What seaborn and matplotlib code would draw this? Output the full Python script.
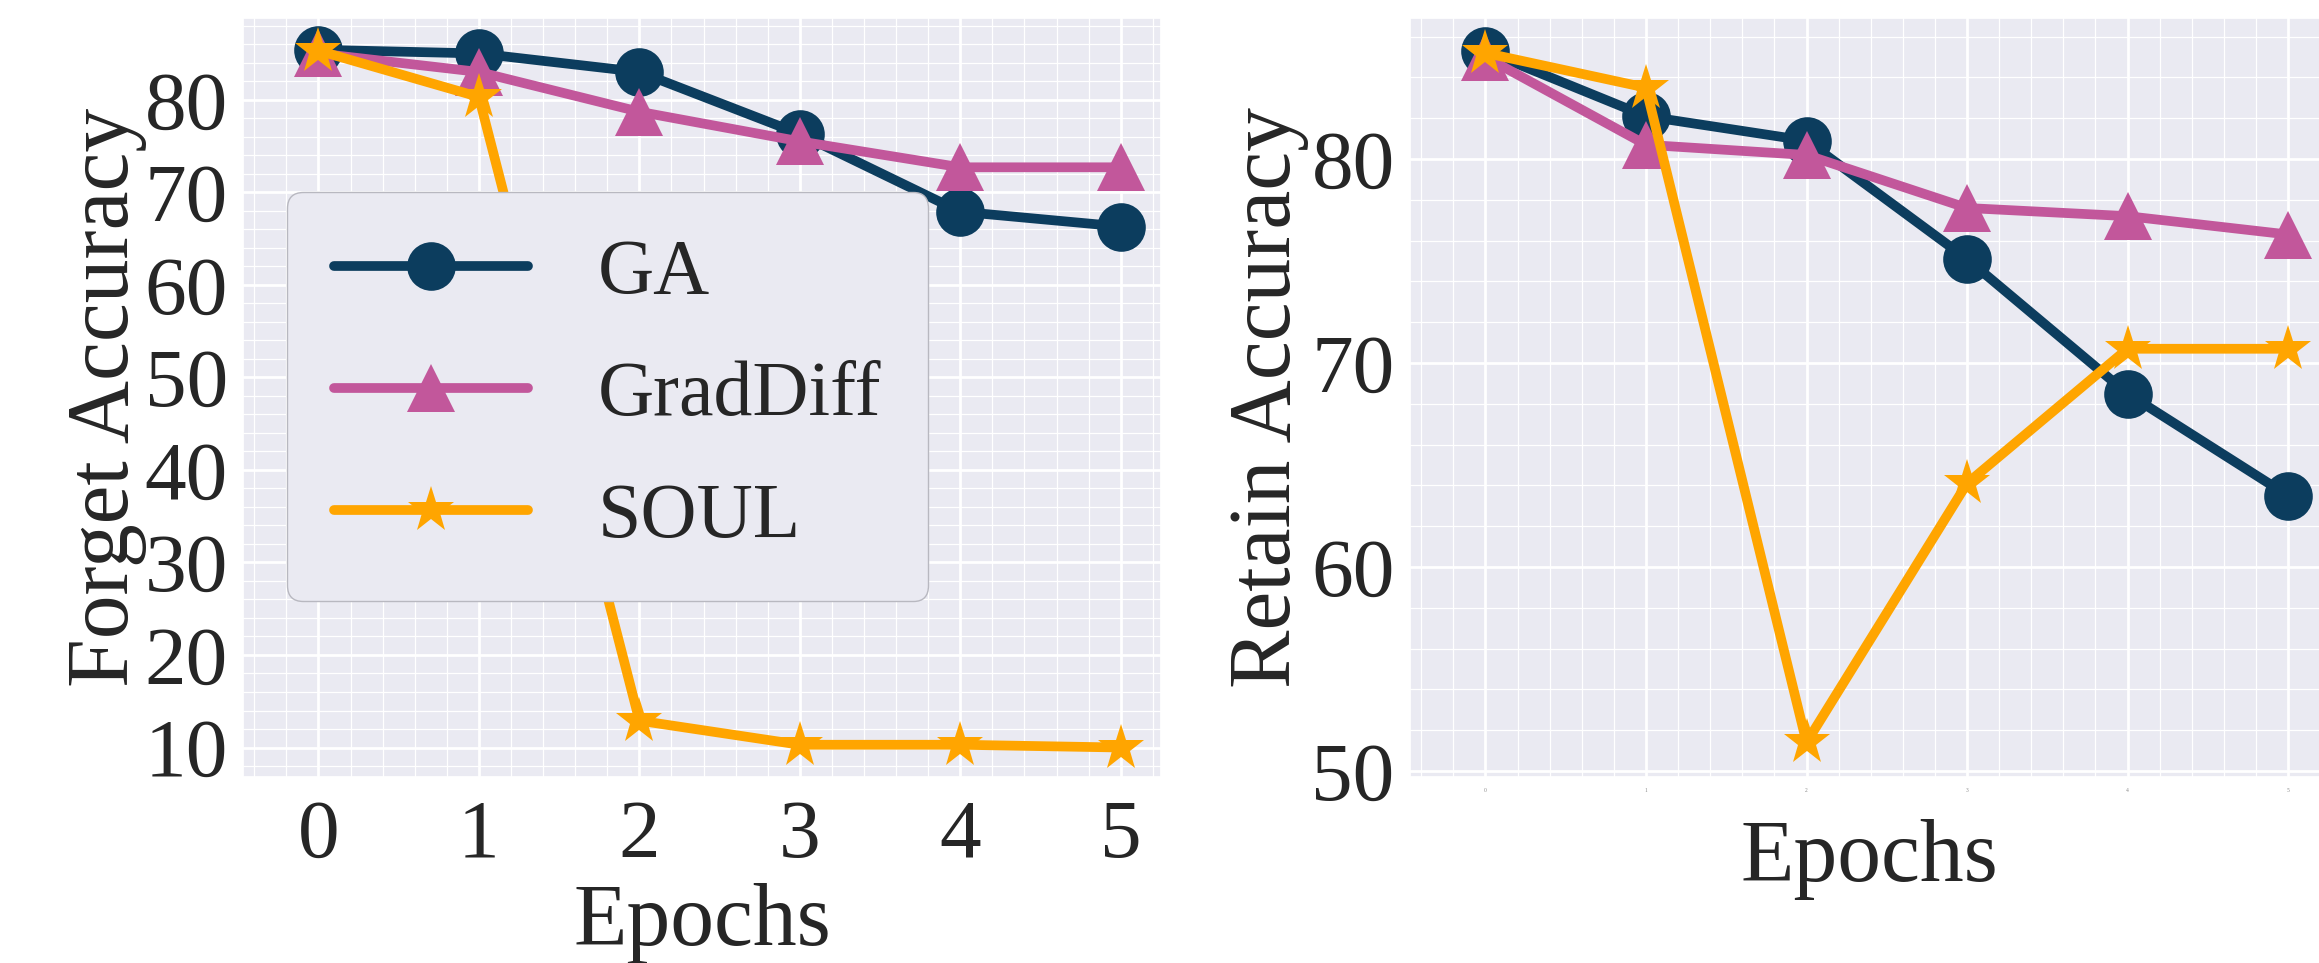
import matplotlib
matplotlib.use("Agg")
import matplotlib.pyplot as plt
import numpy as np
import seaborn as sns
from matplotlib.ticker import AutoMinorLocator, MultipleLocator

# Data
epochs = [0, 1, 2, 3, 4, 5]
methods = ["GA", "GradDiff", "SOUL"]

forget_ga = [85.4, 85.0, 83.0, 76.3, 67.9, 66.3]
forget_graddiff = [85.0, 83.0, 78.7, 75.5, 72.7, 72.7]
forget_soul = [85.3, 80.3, 12.9, 10.3, 10.3, 10.0]

retain_ga = [85.3, 82.1, 80.9, 75.1, 68.5, 63.5]
retain_graddiff = [85.0, 80.7, 80.2, 77.6, 77.2, 76.3]
retain_soul = [85.2, 83.5, 51.4, 64.1, 70.7, 70.7]

colors = ["#0c3d5e", "#c2579b", "#ffa500"]
markers = ["o", "^", "*"]

sns.set_theme(style="darkgrid")
plt.rcParams["font.family"] = ["Liberation Serif", "DejaVu Serif"]
plt.rcParams["text.color"] = ".15"
plt.rcParams["axes.labelcolor"] = ".15"

fig = plt.figure(figsize=(23.19, 9.63), dpi=100)
ax1 = fig.add_axes([0.1048, 0.193, 0.3958, 0.788])
ax2 = fig.add_axes([0.6080, 0.193, 0.3960, 0.788])


def draw(ax, series):
    for vals, name, c, m in zip(series, methods, colors, markers):
        sns.lineplot(
            x=epochs, y=vals, ax=ax, color=c, marker=m, markersize=35,
            markeredgewidth=0, linewidth=7, label=name,
        )
    ax.set_xlim(-0.47, 5.25)
    ax.xaxis.set_major_locator(MultipleLocator(1))
    ax.xaxis.set_minor_locator(MultipleLocator(0.2))
    ax.yaxis.set_minor_locator(AutoMinorLocator(5))
    ax.grid(which="major", color="white", linewidth=2)
    ax.grid(which="minor", color="white", linewidth=0.9)
    ax.tick_params(which="both", length=0)


# Left panel: forget accuracy
draw(ax1, [forget_ga, forget_graddiff, forget_soul])
ax1.set_ylim(6.8, 88.8)
ax1.set_yticks([10, 20, 30, 40, 50, 60, 70, 80])
ax1.tick_params(axis="y", labelsize=60, pad=11)
ax1.tick_params(axis="x", labelsize=60, pad=16)
ax1.set_xlabel("Epochs", fontsize=63)
ax1.set_ylabel("Forget Accuracy", fontsize=63)
ax1.xaxis.set_label_coords(0.5, -0.14)
ax1.yaxis.set_label_coords(-0.105, 0.5)
ax1.legend(
    loc="upper left", bbox_to_anchor=(0.048, 0.771), borderaxespad=0,
    fontsize=56, handlelength=2.5, handletextpad=0.9, labelspacing=0.65,
    borderpad=0.6, frameon=True, fancybox=True, shadow=False,
    facecolor="#eaeaf2", edgecolor="#b8b8c0", framealpha=1,
)

# Right panel: retain accuracy
draw(ax2, [retain_ga, retain_graddiff, retain_soul])
ax2.set_ylim(49.7, 86.9)
ax2.set_yticks([50, 60, 70, 80])
ax2.tick_params(axis="y", labelsize=60, pad=11)
ax2.tick_params(axis="x", labelsize=4, pad=8, labelcolor="#888888")
ax2.set_xlabel("Epochs", fontsize=63)
ax2.set_ylabel("Retain Accuracy", fontsize=63)
ax2.xaxis.set_label_coords(0.5, -0.055)
ax2.yaxis.set_label_coords(-0.11, 0.5)
ax2.get_legend().remove()

fig.savefig("out.png", dpi=100)
